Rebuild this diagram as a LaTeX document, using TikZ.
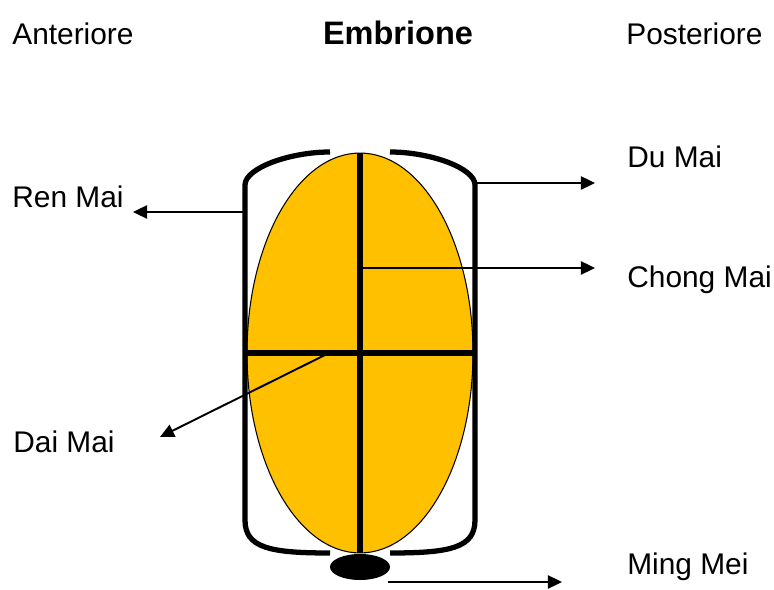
\documentclass[tikz,border=0pt]{standalone}
\usepackage{fontspec}
\setmainfont{Liberation Sans}
\usetikzlibrary{arrows.meta,shapes.geometric}
\def\wThin{0.6pt}
\def\wArrow{1.1pt}
\def\wHeavy{3pt}
\definecolor{cYolk}{HTML}{FFC000}
\definecolor{cInk}{HTML}{000000}
\tikzset{
  lbl/.style={font=\fontsize{17}{20}\selectfont, anchor=base west, inner sep=0pt},
  heading/.style={lbl, font=\fontsize{18.5}{22}\selectfont\bfseries, anchor=base},
  embryo/.style={ellipse, draw=cInk, line width=\wThin, fill=cYolk,
    minimum width=4.52cm, minimum height=8cm, inner sep=0pt},
  seed/.style={ellipse, fill=cInk, minimum width=1.2cm, minimum height=0.52cm, inner sep=0pt},
  wall/.style={draw=cInk, line width=\wHeavy},
  cross/.style={draw=cInk, line width=\wHeavy},
  ptr/.style={draw=cInk, line width=\wArrow, -{Triangle[length=8pt, width=7.5pt]}},
}

\begin{document}
\begin{tikzpicture}[x=0.02cm, y=-0.02cm]
\useasboundingbox (0,0) rectangle (774,590);
% ---- headings
\node[lbl]     (ant)  at (12,45)  {Anteriore};
\node[heading] (emb)  at (398,45) {Embrione};
\node[lbl]     (post) at (626,45) {Posteriore};

% ---- embryo body, cross and seed
\node[embryo] (embryo) at (360,353) {};
\draw[cross] (embryo.north) -- (embryo.south);
\draw[cross] (245,353) -- (475,353);
\node[seed] (seed) at (360,567) {};

% ---- outer walls (left and right)
\draw[wall] (330,152) .. controls (290,152) and (245,168) .. (245,185) -- (245,520)
  .. controls (245,548) and (270,553) .. (330,553);
\draw[wall] (390,152) .. controls (430,152) and (475,168) .. (475,185) -- (475,520)
  .. controls (475,548) and (450,553) .. (390,553);

% ---- channel labels
\node[lbl] (ren)   at (12,208)  {Ren Mai};
\node[lbl] (du)    at (627,168) {Du Mai};
\node[lbl] (chong) at (627,288) {Chong Mai};
\node[lbl] (dai)   at (13,453)  {Dai Mai};
\node[lbl] (ming)  at (627,575) {Ming Mei};

% ---- arrow ends
\coordinate (renFrom)   at (243,212);
\coordinate (renTo)     at (133,212);
\coordinate (duFrom)    at (477,183);
\coordinate (duTo)      at (595,183);
\coordinate (chongFrom) at (360,268);
\coordinate (chongTo)   at (595,268);
\coordinate (daiFrom)   at (325,355);
\coordinate (daiTo)     at (160,437);
\coordinate (mingFrom)  at (388,582);
\coordinate (mingTo)    at (562,582);

\draw[ptr] (renFrom) -- (renTo);
\draw[ptr] (duFrom) -- (duTo);
\draw[ptr] (chongFrom) -- (chongTo);
\draw[ptr] (daiFrom) -- (daiTo);
\draw[ptr] (mingFrom) -- (mingTo);
\end{tikzpicture}
\end{document}
